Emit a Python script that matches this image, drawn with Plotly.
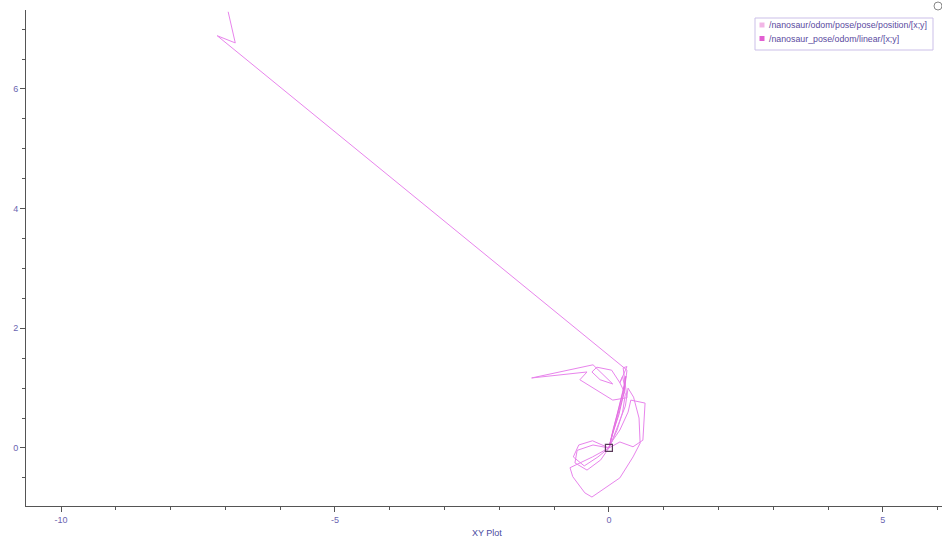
import plotly.graph_objects as go

# Trajectory (x, y in metres)
pos_x = [0.0, -0.29, -0.58, -0.62, -0.40, -0.15, 0.0,
         -0.30, -0.55, -0.65, -0.45, -0.20, 0.0,
         0.12, 0.22, 0.28, 0.25,
         0.20, 0.05, -0.22, -0.31, -0.16, 0.07,
         -0.29, -1.41, -0.40,
         -0.53, 0.07,
         0.33, 0.26, 0.33, 0.20,
         0.30, 0.25, 0.15, 0.0,
         0.20, 0.44, 0.62, 0.66, 0.40, 0.35, 0.20, 0.05, 0.0,
         -0.30, -0.71, -0.66, -0.44, -0.31, 0.20, 0.44, 0.57, 0.55, 0.45, 0.35,
         0.30, 0.18, 0.05, 0.0,
         0.15, 0.28, 0.33,
         -7.15, -6.82, -6.95]
pos_y = [0.0, 0.05, -0.04, -0.25, -0.37, -0.20, 0.0,
         0.12, 0.05, -0.15, -0.30, -0.15, 0.0,
         0.45, 0.80, 1.05, 1.20,
         1.09, 1.30, 1.35, 1.27, 1.14, 1.07,
         1.39, 1.17, 1.27,
         1.14, 0.80,
         0.84, 1.34, 1.36, 1.09,
         0.90, 0.60, 0.30, 0.0,
         0.10, 0.02, 0.13, 0.75, 0.80, 0.60, 0.30, 0.10, 0.0,
         -0.15, -0.33, -0.48, -0.75, -0.82, -0.50, -0.15, 0.08, 0.50, 0.85, 1.00,
         0.70, 0.40, 0.10, 0.0,
         0.50, 0.95, 1.30,
         6.89, 6.77, 7.29]

lin_x = [0.0, 0.08, 0.17, 0.26, 0.31, 0.27, 0.18, 0.06, 0.0]
lin_y = [0.0, 0.32, 0.62, 0.95, 1.20, 0.90, 0.55, 0.22, 0.0]

cur_x = [0.0]
cur_y = [0.0]

x_tickvals = [-10, -5, 0, 5]
x_ticktext = ["-10", "-5", "0", "5"]
y_tickvals = [0, 2, 4, 6]
y_ticktext = ["0", "2", "4", "6"]

series_names = ["/nanosaur/odom/pose/pose/position/[x;y]",
                "/nanosaur_pose/odom/linear/[x;y]"]
series_colors = ["#f2b6e6", "#e25fd2"]

fig = go.Figure()
fig.add_trace(go.Scatter(x=pos_x, y=pos_y, mode="lines",
                         line=dict(color="#e884ec", width=1),
                         showlegend=False, hoverinfo="skip"))
fig.add_trace(go.Scatter(x=lin_x, y=lin_y, mode="lines",
                         line=dict(color="#e46ee0", width=1),
                         showlegend=False, hoverinfo="skip"))
fig.add_trace(go.Scatter(x=cur_x, y=cur_y, mode="markers",
                         marker=dict(symbol="square-open", size=7,
                                     color="#5a3a5a", line=dict(width=1.2)),
                         showlegend=False))

axis_common = dict(showline=True, linecolor="#555555", linewidth=1,
                   ticks="outside", ticklen=5, tickcolor="#555555",
                   showgrid=False, zeroline=False, automargin=False,
                   tickfont=dict(family="Liberation Sans, Arial", size=9,
                                 color="#6a64b0"))

# manual legend (pixel geometry converted to paper coords)
L, R, T, B = 26, 942, 10, 506
def px(xp):
    return (xp - L) / (R - L)
def py(yp):
    return (B - yp) / (B - T)

shapes = [dict(type="rect", xref="paper", yref="paper",
               x0=px(755), x1=px(933), y0=py(50), y1=py(18),
               line=dict(color="#cbbfe8", width=1), fillcolor="white", layer="above"),
          dict(type="circle", xref="paper", yref="paper",
               xsizemode="pixel", ysizemode="pixel",
               xanchor=px(938), yanchor=py(6),
               x0=-4, x1=4, y0=-4, y1=4,
               line=dict(color="#888888", width=1))]
annotations = []
for i, (name, col) in enumerate(zip(series_names, series_colors)):
    yc = 25 + 13.5 * i
    shapes.append(dict(type="rect", xref="paper", yref="paper",
                       x0=px(759.5), x1=px(764.5), y0=py(yc + 2.5), y1=py(yc - 2.5),
                       line=dict(width=0), fillcolor=col, layer="above"))
    annotations.append(dict(text=name, xref="paper", yref="paper",
                            x=px(767), y=py(yc), xanchor="left", yanchor="middle",
                            showarrow=False,
                            font=dict(family="Liberation Sans, Arial", size=8.8,
                                      color="#5a4aa0")))
annotations.append(dict(text="XY Plot", xref="paper", yref="paper",
                        x=px(487), y=py(533), xanchor="center", yanchor="middle",
                        showarrow=False,
                        font=dict(family="Liberation Sans, Arial", size=9,
                                  color="#4a4aa0")))

fig.update_layout(
    width=942, height=540,
    margin=dict(l=L, r=942 - R, t=T, b=540 - B),
    paper_bgcolor="white", plot_bgcolor="white",
    showlegend=False,
    xaxis=dict(range=[-10.64, 6.08], tickvals=x_tickvals, ticktext=x_ticktext,
               minor=dict(dtick=1, tick0=0, ticks="outside", ticklen=3,
                          tickcolor="#555555"),
               **axis_common),
    yaxis=dict(range=[-0.97, 7.32], tickvals=y_tickvals, ticktext=y_ticktext,
               minor=dict(dtick=0.5, tick0=0, ticks="outside", ticklen=3,
                          tickcolor="#555555"),
               **axis_common),
    shapes=shapes,
    annotations=annotations,
)

fig.write_html("out.html", config={"displayModeBar": False},
               post_script="document.body.style.margin='0';document.body.style.overflow='hidden';")
